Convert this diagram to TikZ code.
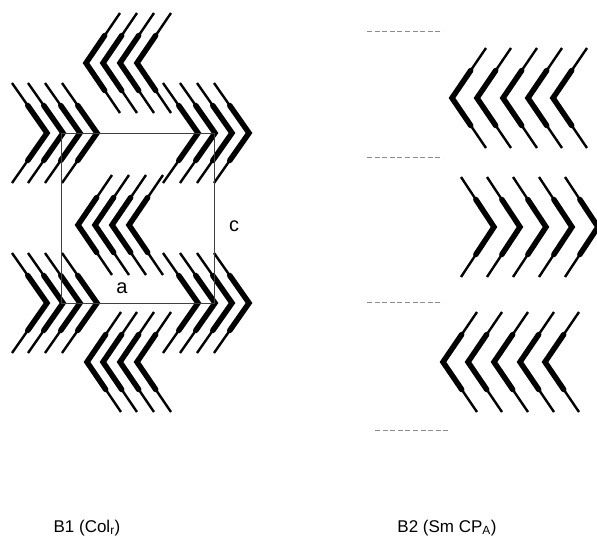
\documentclass[tikz,border=0pt]{standalone}
\usepackage{fontspec}
\setmainfont{Liberation Sans}
\begin{document}
\begin{tikzpicture}[x=1pt,y=-1pt,
  molthin/.style={line width=2.4pt,line cap=butt,line join=miter},
  molthick/.style={line width=5.5pt,line cap=round,line join=miter,miter limit=10},
  cellline/.style={line width=0.9pt,draw=black!75},
  layerline/.style={line width=1pt,draw=black!45,dash pattern=on 5pt off 2.6pt},
  axislabel/.style={font=\fontsize{20}{20}\selectfont,inner sep=0pt},
  phaselabel/.style={font=\fontsize{17}{17}\selectfont,inner sep=0pt}]
\useasboundingbox (0,0) rectangle (597,544);
\clip (0,0) rectangle (597,544);
% one bent-core molecule: vertex (#1,#2), arms reaching #3 horizontally and 50 vertically
\newcommand{\bentcore}[3]{%
  \draw[molthin] ({#1+#3},{#2-50}) -- (#1,#2) -- ({#1+#3},{#2+50});
  \draw[molthick] ({#1+0.55*#3},{#2-27.5}) -- (#1,#2) -- ({#1+0.55*#3},{#2+27.5});
}
% ---------- B1: rectangular columnar lattice ----------
\foreach \v in {86,103,120,137} {\bentcore{\v}{63}{34}}
\foreach \v in {47,63,80,97} {\bentcore{\v}{133}{-35}}
\foreach \v in {198,215,232,249} {\bentcore{\v}{133}{-35}}
\foreach \v in {78,95,112,129} {\bentcore{\v}{225}{34}}
\foreach \v in {47,63,80,97} {\bentcore{\v}{303}{-35}}
\foreach \v in {198,215,232,249} {\bentcore{\v}{303}{-35}}
\foreach \v in {87,103,120,137} {\bentcore{\v}{362}{34}}
% unit cell
\draw[cellline] (61,133) rectangle (214,303);
\node[axislabel] (a) at (122,288) {a};
\node[axislabel] (c) at (234,226) {c};
% ---------- B2: smectic layers ----------
\draw[layerline] (367,31) -- (443,31);
\draw[layerline] (367,157) -- (443,157);
\draw[layerline] (367,302) -- (443,302);
\draw[layerline] (375,430) -- (450,430);
\foreach \v in {452,477,503,528,553} {\bentcore{\v}{98}{34}}
\foreach \v in {494,520,546,572,598} {\bentcore{\v}{227}{-33}}
\foreach \v in {443,468,494,520,545} {\bentcore{\v}{362}{34}}
% phase labels
\node[phaselabel] (b1) at (87,528) {B1 (Col\textsubscript{r})};
\node[phaselabel] (b2) at (447,528) {B2 (Sm CP\textsubscript{A})};
\end{tikzpicture}
\end{document}
